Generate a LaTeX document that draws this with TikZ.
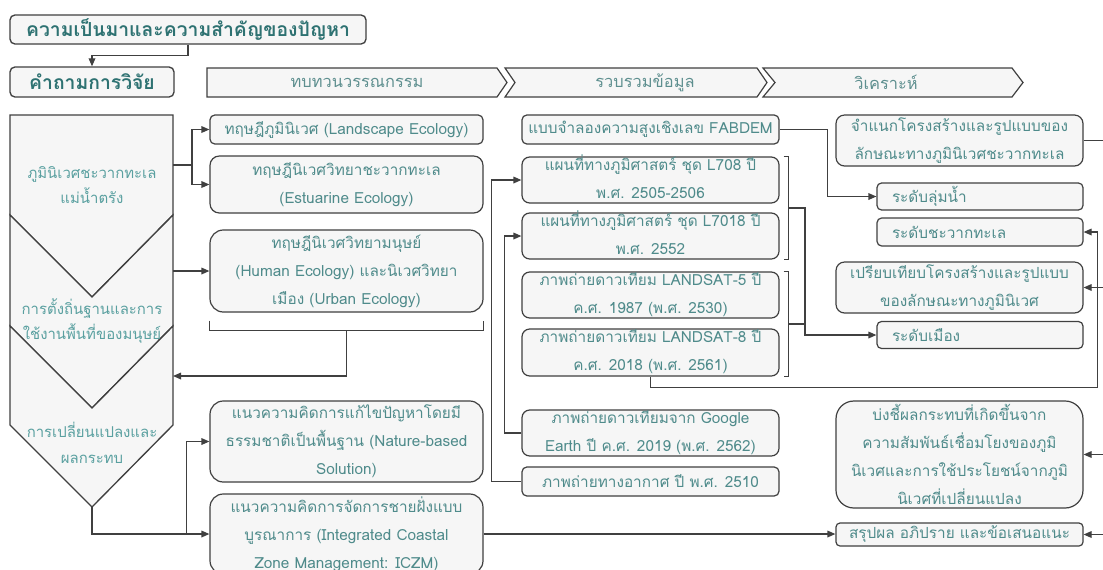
\documentclass[tikz,border=0pt]{standalone}
\usepackage{fontspec}
\newfontfamily\thaifont[Script=Thai]{Loma}
\usetikzlibrary{arrows.meta}
\definecolor{edgec}{HTML}{404040}
\definecolor{fillc}{HTML}{F6F6F6}
\definecolor{ttl}{HTML}{2E7272}
\definecolor{txt}{HTML}{4F8B8B}
\definecolor{ltxt}{HTML}{5AA0A0}
\definecolor{htxt}{HTML}{5E8F8F}
\begin{document}
\begin{tikzpicture}[x=0.75pt,y=-0.75pt,
  wh/.style 2 args={minimum width=#1*0.75pt, minimum height=#2*0.75pt},
  box/.style={draw=edgec, fill=fillc, line width=0.9pt, text=txt, inner sep=0pt,
    font=\thaifont\fontsize{11.5}{21}\selectfont, align=center},
  twoline/.style={text height=29.5pt, text depth=2.5pt},
  lbox/.style={box, align=left, text width=#1*0.75pt},
  titlebox/.style={draw=edgec, fill=fillc, line width=1pt, text=ttl, inner sep=0pt,
    rounded corners=3.7pt, font=\thaifont\bfseries\fontsize{14.5}{17}\selectfont},
  chev/.style={draw=edgec, fill=fillc, line width=0.9pt},
  htext/.style={text=htxt, inner sep=0pt, font=\thaifont\fontsize{12.3}{15}\selectfont},
  lshape/.style={draw=edgec, fill=fillc, line width=1pt, line join=miter},
  ltext/.style={text=ltxt, inner sep=0pt, align=center, font=\thaifont\fontsize{11.2}{19}\selectfont},
  conn/.style={draw=edgec, line width=0.9pt},
  arr/.style={conn, -{Triangle[length=6pt,width=5pt]}}]
\useasboundingbox (0,0) rectangle (1103,569);
\clip (0,0) rectangle (1103,569);
\fill[white] (0,0) rectangle (1103,569);

% title and research question
\node[titlebox, wh={356}{29}] (title) at (188,29.5) {ความเป็นมาและความสำคัญของปัญหา};
\node[titlebox, wh={164}{30}] (rq) at (92,82) {คำถามการวิจัย};
\draw[arr] (title.south) -- ++(0,10.5) -| (rq.north);

% header chevrons
\draw[chev] (207,68) -- (497,68) -- (507,82.5) -- (497,97) -- (207,97) -- cycle;
\draw[chev] (505,68) -- (757,68) -- (767,82.5) -- (757,97) -- (505,97) -- (515,82.5) -- cycle;
\draw[chev] (763,68) -- (1012,68) -- (1023,82.5) -- (1012,97) -- (763,97) -- (775,82.5) -- cycle;
\node[htext] (h1) at (357,82.5) {ทบทวนวรรณกรรม};
\node[htext] (h2) at (645,82.5) {รวบรวมข้อมูล};
\node[htext] (h3) at (886,82.5) {วิเคราะห์};

% left column
\draw[lshape] (10,115) -- (173,115) -- (173,215) -- (92,297) -- (10,215) -- cycle;
\draw[lshape] (10,215) -- (92,297) -- (173,215) -- (173,326) -- (92,408) -- (10,326) -- cycle;
\draw[lshape] (10,326) -- (92,408) -- (173,326) -- (173,425) -- (92,507) -- (10,425) -- cycle;
\node[ltext] (l1) at (92,185) {ภูมินิเวศชะวากทะเล\\แม่น้ำตรัง};
\node[ltext] (l2) at (92,321) {การตั้งถิ่นฐานและการ\\ใช้งานพื้นที่ของมนุษย์};
\node[ltext] (l3) at (92,443) {การเปลี่ยนแปลงและ\\ผลกระทบ};
\coordinate (L1e) at (173,165);
\coordinate (L2e) at (173,271);
\coordinate (L3e) at (173,376);
\coordinate (L3b) at (92,507);

% literature column
\node[box, wh={273}{29}, rounded corners=3.6pt] (B1) at (346.5,129.5) {ทฤษฎีภูมินิเวศ (Landscape Ecology)};
\node[box, wh={273}{57}, rounded corners=7pt] (B2) at (346.5,184.5) {ทฤษฎีนิเวศวิทยาชะวากทะเล\\(Estuarine Ecology)};
\node[box, wh={273}{82}, rounded corners=10pt] (B3) at (346.5,271) {ทฤษฎีนิเวศวิทยามนุษย์\\(Human Ecology) และนิเวศวิทยา\\เมือง (Urban Ecology)};
\node[box, wh={273}{81}, rounded corners=10pt] (B4) at (346.5,441.5) {แนวความคิดการแก้ไขปัญหาโดยมี\\ธรรมชาติเป็นพื้นฐาน (Nature-based\\Solution)};
\node[box, wh={273}{80}, rounded corners=10pt] (B5) at (346.5,534) {แนวความคิดการจัดการชายฝั่งแบบ\\บูรณาการ (Integrated Coastal\\Zone Management: ICZM)};

% data column
\node[box, wh={257}{29}, rounded corners=3.6pt] (C1) at (650.5,129.5) {แบบจำลองความสูงเชิงเลข FABDEM};
\node[box, twoline, wh={257}{46}, rounded corners=5.8pt] (C2) at (650.5,180) {แผนที่ทางภูมิศาสตร์ ชุด L708 ปี\\พ.ศ. 2505-2506};
\node[box, twoline, wh={257}{46}, rounded corners=5.8pt] (C3) at (650.5,236) {แผนที่ทางภูมิศาสตร์ ชุด L7018 ปี\\พ.ศ. 2552};
\node[box, twoline, wh={257}{46}, rounded corners=5.8pt] (C4) at (650.5,295) {ภาพถ่ายดาวเทียม LANDSAT-5 ปี\\ค.ศ. 1987 (พ.ศ. 2530)};
\node[box, twoline, wh={257}{47}, rounded corners=5.8pt] (C5) at (650.5,352.5) {ภาพถ่ายดาวเทียม LANDSAT-8 ปี\\ค.ศ. 2018 (พ.ศ. 2561)};
\node[box, twoline, wh={257}{46}, rounded corners=5.8pt] (C6) at (650.5,433) {ภาพถ่ายดาวเทียมจาก Google\\Earth ปี ค.ศ. 2019 (พ.ศ. 2562)};
\node[box, wh={257}{29}, rounded corners=3.6pt] (C7) at (650.5,481.5) {ภาพถ่ายทางอากาศ ปี พ.ศ. 2510};

% analysis column
\node[box, wh={247}{51}, rounded corners=6.4pt] (D1) at (959.5,140.5) {จำแนกโครงสร้างและรูปแบบของ\\ลักษณะทางภูมินิเวศชะวากทะเล};
\node[lbox=176, wh={206}{27}, rounded corners=3.4pt, inner xsep=11.25pt] (D2) at (980,196.5) {ระดับลุ่มน้ำ};
\node[lbox=176, wh={206}{28}, rounded corners=3.5pt, inner xsep=11.25pt] (D3) at (980,232) {ระดับชะวากทะเล};
\node[box, wh={247}{51}, rounded corners=6.4pt] (D4) at (959.5,287.5) {เปรียบเทียบโครงสร้างและรูปแบบ\\ของลักษณะทางภูมินิเวศ};
\node[lbox=176, wh={206}{27}, rounded corners=3.4pt, inner xsep=11.25pt] (D5) at (980,335) {ระดับเมือง};
\node[box, wh={247}{107}, rounded corners=13.4pt] (D6) at (959.5,454.5) {บ่งชี้ผลกระทบที่เกิดขึ้นจาก\\ความสัมพันธ์เชื่อมโยงของภูมิ\\นิเวศและการใช้ประโยชน์จากภูมิ\\นิเวศที่เปลี่ยนแปลง};
\node[box, wh={247}{23}, rounded corners=3pt] (D7) at (959.5,534.5) {สรุปผล อภิปราย และข้อเสนอแนะ};

% connectors: left column to literature
\draw[conn] (L1e) -- ++(19,0) coordinate (j1);
\draw[arr] (j1) |- (B1.west);
\draw[arr] (j1) |- (B2.west);
\draw[arr] (L2e) -- (L2e -| B3.west);
\draw[conn] ([yshift=-6pt]B3.south west) -- ++(0,10) -| ([yshift=-6pt]B3.south east);
\draw[arr] ([yshift=-13.5pt]B3.south) |- (L3e);
\draw[arr] (L3b) |- (B5.west);
\draw[arr] ([xshift=-17pt]B5.west) |- (B4.west);

% data connectors
\draw[arr] (C7.west) -- ++(-30,0) |- (C2.west);
\draw[arr] (C6.west) -- ++(-17,0) |- (C3.west);
\draw[arr] (C1.east) -- ++(48,0) |- (D2.west);
\draw[conn] ([xshift=3pt]C2.north east) -- ++(5,0) |- ([xshift=3pt]C3.south east);
\draw[conn] ([xshift=3pt]C4.north east) -- ++(5,0) |- ([xshift=3pt]C5.south east);
\coordinate (k1) at (788,208);
\coordinate (k2) at (788,324);
\draw[arr] (k1) -- (805,208) |- (D5.west);
\draw[conn] (k2) -- (805,324);
\draw[arr] (C5.south) -- ++(0,11) -| ([xshift=10.5pt]D3.east) -- (D3.east);
\draw[arr] (B5.east) -- (B5.east -| D7.west);

% analysis connectors from the right edge
\coordinate (r1) at (1106,287.5);
\coordinate (r2) at (1106,454.5);
\coordinate (r3) at (1106,534.5);
\draw[conn] (D1.east) -- ++(25,0);
\draw[arr] (r1) -- (D4.east);
\draw[arr] (r2) -- (D6.east);
\draw[arr] (r3) -- (D7.east);
\end{tikzpicture}
\end{document}
